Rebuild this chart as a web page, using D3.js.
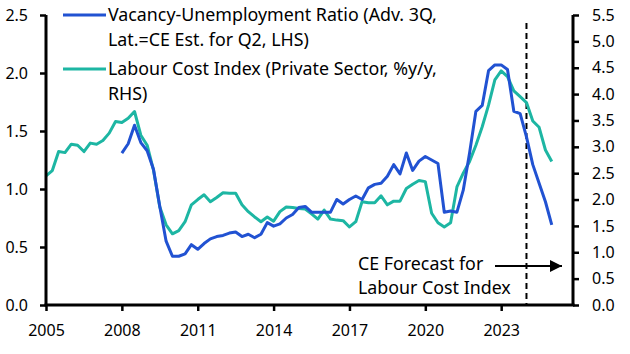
<!DOCTYPE html>
<html>
<head>
<meta charset="utf-8">
<script src="https://cdn.jsdelivr.net/npm/d3@7"></script>
<style>
  html, body { margin: 0; padding: 0; background: #fff; }
  svg { display: block; }
  text { font-family: "Noto Sans", "Open Sans", sans-serif; fill: #000; }
</style>
</head>
<body>
<svg id="chart" width="630" height="354"></svg>
<script>
// ---- Data (quarterly) ----
const lciStart = "2005Q1";
const lciValues = [
  2.45, 2.55, 2.91, 2.89,
  3.05, 3.03, 2.91, 3.07,
  3.05, 3.12, 3.26, 3.48,
  3.46, 3.54, 3.67, 3.22,
  3.03, 2.56, 1.86, 1.52,
  1.35, 1.41, 1.58, 1.90,
  2.00, 2.09, 1.96, 2.04,
  2.13, 2.12, 2.12, 1.90,
  1.77, 1.67, 1.58, 1.67,
  1.59, 1.77, 1.86, 1.85,
  1.83, 1.82, 1.73, 1.63,
  1.80, 1.63, 1.61, 1.60,
  1.48, 1.58, 1.96, 1.94,
  1.94, 2.07, 1.90, 1.97,
  1.97, 2.21, 2.29, 2.36,
  2.34, 1.74, 1.56, 1.48,
  1.56, 2.24, 2.50, 2.72,
  3.03, 3.38, 3.79, 4.27,
  4.44, 4.33, 4.06, 3.95,
  3.84, 3.49, 3.37, 2.94,
  2.72
];
const vuStart = "2008Q1";
const vuValues = [
  1.31, 1.39, 1.55, 1.40,
  1.33, 1.17, 0.85, 0.55,
  0.42, 0.42, 0.44, 0.52,
  0.48, 0.53, 0.57, 0.59,
  0.60, 0.62, 0.63, 0.59,
  0.61, 0.58, 0.61, 0.71,
  0.68, 0.70, 0.75, 0.78,
  0.84, 0.85, 0.80, 0.80,
  0.80, 0.80, 0.91, 0.87,
  0.91, 0.94, 0.91, 1.01,
  1.04, 1.05, 1.11, 1.21,
  1.13, 1.31, 1.16, 1.24,
  1.28, 1.25, 1.22, 0.80,
  0.81, 0.80, 0.99, 1.31,
  1.67, 1.72, 2.02, 2.07,
  2.07, 2.03, 1.67, 1.65,
  1.45, 1.21, 1.05, 0.89,
  0.69
];
const xTicks = [2005, 2008, 2011, 2014, 2017, 2020, 2023];
const leftTicks = [0.0, 0.5, 1.0, 1.5, 2.0, 2.5];
const rightTicks = [0.0, 0.5, 1.0, 1.5, 2.0, 2.5, 3.0, 3.5, 4.0, 4.5, 5.0, 5.5];
const forecastStart = 2024;
const legendLines = [
  ["Vacancy-Unemployment Ratio (Adv. 3Q,", "Lat.=CE Est. for Q2, LHS)"],
  ["Labour Cost Index (Private Sector, %y/y,", "RHS)"]
];
const annotationLines = ["CE Forecast for", "Labour Cost Index"];

// ---- helpers ----
function qToYear(q) { return +q.slice(0, 4) + (+q.slice(5) - 1) / 4; }
function toSeries(start, vals) {
  const s = qToYear(start);
  return vals.map((v, i) => ({ t: s + i * 0.25, v }));
}
const lci = toSeries(lciStart, lciValues);
const vu = toSeries(vuStart, vuValues);

// ---- layout ----
const svg = d3.select("#chart");
const L = 46, R = 573, T = 15, B = 305;
const blue = "#2152d2", teal = "#1db6a3";

const x = d3.scaleLinear().domain([2005, 2025.84]).range([L, R]);
const yL = d3.scaleLinear().domain([0, 2.5]).range([B, T]);
const yR = d3.scaleLinear().domain([0, 5.5]).range([B, T]);

// forecast dashed line
svg.append("line")
  .attr("x1", x(forecastStart)).attr("x2", x(forecastStart))
  .attr("y1", T + 8).attr("y2", B)
  .attr("stroke", "#000").attr("stroke-width", 2)
  .attr("stroke-dasharray", "6,4");

// lines
const lineL = d3.line().x(d => x(d.t)).y(d => yL(d.v));
const lineR = d3.line().x(d => x(d.t)).y(d => yR(d.v));
svg.append("path").datum(lci).attr("d", lineR)
  .attr("fill", "none").attr("stroke", teal).attr("stroke-width", 3)
  .attr("stroke-linejoin", "round");
svg.append("path").datum(vu).attr("d", lineL)
  .attr("fill", "none").attr("stroke", blue).attr("stroke-width", 3)
  .attr("stroke-linejoin", "round");

// axes
const fmt = d3.format(".1f");
const gL = svg.append("g").attr("transform", `translate(${L},0)`)
  .call(d3.axisLeft(yL).tickValues(leftTicks).tickFormat(fmt).tickSize(6).tickPadding(12));
const gR = svg.append("g").attr("transform", `translate(${R},0)`)
  .call(d3.axisRight(yR).tickValues(rightTicks).tickFormat(fmt).tickSize(6).tickPadding(13));
const gB = svg.append("g").attr("transform", `translate(0,${B})`)
  .call(d3.axisBottom(x).tickValues(xTicks).tickFormat(d3.format("d")).tickSize(6).tickPadding(14));
[gL, gR, gB].forEach(g => {
  g.select(".domain").attr("stroke", "#000").attr("stroke-width", 3);
  g.selectAll(".tick line").attr("stroke", "#000").attr("stroke-width", 2.5);
  g.selectAll(".tick text").attr("font-size", 16).attr("font-family", "Noto Sans").attr("fill", "#000");
});
gL.select(".domain").attr("d", `M-0,${T}H0V${B}H-0`);
gR.select(".domain").attr("d", `M0,${T}H0V${B}H0`);
gB.select(".domain").attr("d", `M${L - 1.5},0H${R + 1.5}`);

// fit text to a target width by adjusting the font size
function fitText(sel, width) {
  const w = sel.node().getComputedTextLength();
  const fs = parseFloat(sel.attr("font-size"));
  sel.attr("font-size", (fs * width / w).toFixed(2));
}

// legend
const legend = svg.append("g");
const legY = [15, 69];
const legColors = [blue, teal];
let legendFont = 16.5;
legendLines.forEach((lines, i) => {
  legend.append("line")
    .attr("x1", 63).attr("x2", 106)
    .attr("y1", legY[i]).attr("y2", legY[i])
    .attr("stroke", legColors[i]).attr("stroke-width", 3);
  lines.forEach((s, j) => {
    const t = legend.append("text")
      .attr("x", 108).attr("y", legY[i] + 5.5 + j * 25)
      .attr("font-size", 16.5)
      .text(s);
    if (i === 0 && j === 0) { fitText(t, 329); legendFont = t.attr("font-size"); }
    else t.attr("font-size", legendFont);
  });
});

// annotation
annotationLines.forEach((s, j) => {
  svg.append("text").attr("x", 358).attr("y", 270 + j * 24)
    .attr("font-size", legendFont).text(s);
});
svg.append("defs").append("marker")
  .attr("id", "arr").attr("viewBox", "0 0 10 10")
  .attr("refX", 10).attr("refY", 5)
  .attr("markerWidth", 6).attr("markerHeight", 6)
  .attr("markerUnits", "strokeWidth")
  .attr("orient", "auto")
  .append("path").attr("d", "M0,0L10,5L0,10Z").attr("fill", "#000");
svg.append("line")
  .attr("x1", 495).attr("x2", 562).attr("y1", 266).attr("y2", 266)
  .attr("stroke", "#000").attr("stroke-width", 2)
  .attr("marker-end", "url(#arr)");
</script>
</body>
</html>
